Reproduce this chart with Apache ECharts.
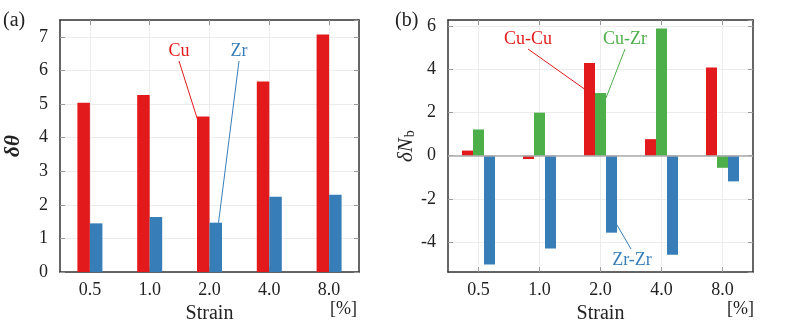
<!DOCTYPE html>
<html>
<head>
<meta charset="utf-8">
<script src="https://cdn.jsdelivr.net/npm/echarts@6/dist/echarts.min.js"></script>
<style>
  html, body { margin: 0; padding: 0; background: #fff; }
  #main { width: 789px; height: 329px; }
</style>
</head>
<body>
<div id="main"></div>
<script>
// strain categories
var strains = ['0.5', '1.0', '2.0', '4.0', '8.0'];
// panel (a): delta theta
var cuTheta = [5.04, 5.27, 4.63, 5.67, 7.07];
var zrTheta = [1.45, 1.64, 1.47, 2.24, 2.30];
// panel (b): delta N_b
var cuCu = [0.24, -0.15, 4.30, 0.77, 4.09];
var cuZr = [1.22, 2.00, 2.91, 5.90, -0.56];
var zrZr = [-5.05, -4.30, -3.57, -4.60, -1.19];

var RED = '#e31a1c', BLUE = '#377eb8', GREEN = '#4daf4a';
var FONT = 'Liberation Serif';

var chart = echarts.init(document.getElementById('main'));

function xAx(grid, bottom) {
	return {
		type: 'category',
		gridIndex: grid,
		position: bottom ? 'bottom' : 'top',
		data: strains,
		boundaryGap: true,
		axisLine: { onZero: false, lineStyle: { color: '#333', width: 1.5 } },
		axisTick: { show: true, inside: true, alignWithLabel: true, length: 5, lineStyle: { color: '#999' } },
		axisLabel: { show: bottom, margin: 9, fontFamily: FONT, fontSize: 18, color: '#222' },
		splitLine: { show: bottom, interval: 0, alignWithLabel: true, lineStyle: { color: '#ececec' } },
		name: bottom ? 'Strain' : '',
		nameLocation: 'middle',
		nameGap: 31,
		nameTextStyle: { fontFamily: FONT, fontSize: 20, color: '#222' }
	};
}

function yAx(grid, left, opts) {
	var a = {
		type: 'value',
		gridIndex: grid,
		position: left ? 'left' : 'right',
		axisLine: { show: true, onZero: false, lineStyle: { color: '#333', width: 1.5 } },
		axisTick: { show: true, inside: true, length: 5, lineStyle: { color: '#999' } },
		axisLabel: { show: left, margin: 12, fontFamily: FONT, fontSize: 18, color: '#222', showMaxLabel: false, showMinLabel: true },
		splitLine: { show: left, lineStyle: { color: '#ececec' } }
	};
	for (var k in opts) a[k] = opts[k];
	return a;
}

var nameA = {
	name: 'δθ', nameLocation: 'middle', nameRotate: 90, nameGap: 36,
	nameTextStyle: { fontFamily: FONT, fontSize: 21, fontStyle: 'italic', fontWeight: 'bold', color: '#222' }
};
var nameB = {
	name: '{i|δN}{s|b}', nameLocation: 'middle', nameRotate: 90, nameGap: 27,
	nameTextStyle: {
		rich: {
			i: { fontFamily: FONT, fontSize: 21, fontStyle: 'italic', color: '#222' },
			s: { fontFamily: FONT, fontSize: 14, color: '#222', verticalAlign: 'bottom', padding: [8, 0, 0, 1] }
		}
	}
};

var yA = yAx(0, true, { min: 0, max: 7.5, interval: 1 });
for (var k in nameA) yA[k] = nameA[k];
var yB = yAx(1, true, { min: -5.4, max: 6.3, splitNumber: 5 });
yB.axisLabel.showMinLabel = false;
for (var k2 in nameB) yB[k2] = nameB[k2];

var option = {
	animation: false,
	grid: [
		{ left: 60, right: 430, top: 20, bottom: 51 },
		{ left: 448, right: 36, top: 20, bottom: 51 }
	],
	xAxis: [xAx(0, true), xAx(0, false), xAx(1, true), xAx(1, false)],
	yAxis: [
		yA,
		yAx(0, false, { min: 0, max: 7.5, interval: 1 }),
		yB,
		yAx(1, false, { min: -5.4, max: 6.3, splitNumber: 5 })
	],
	series: [
		{ type: 'bar', xAxisIndex: 0, yAxisIndex: 0, data: cuTheta, barWidth: 12.5, barGap: '0%', itemStyle: { color: RED } },
		{ type: 'bar', xAxisIndex: 0, yAxisIndex: 0, data: zrTheta, barWidth: 12.5, barGap: '0%', itemStyle: { color: BLUE } },
		{ type: 'bar', xAxisIndex: 2, yAxisIndex: 2, data: cuCu, barWidth: 11, barGap: '0%', itemStyle: { color: RED },
			markLine: { silent: true, symbol: 'none', label: { show: false }, lineStyle: { color: '#aaa', width: 1.5, type: 'solid' }, data: [{ yAxis: 0 }] } },
		{ type: 'bar', xAxisIndex: 2, yAxisIndex: 2, data: cuZr, barWidth: 11, barGap: '0%', itemStyle: { color: GREEN } },
		{ type: 'bar', xAxisIndex: 2, yAxisIndex: 2, data: zrZr, barWidth: 11, barGap: '0%', itemStyle: { color: BLUE } }
	]
};
chart.setOption(option);

// annotation labels and leader lines
function px(grid, cat, val) {
	return chart.convertToPixel({ xAxisIndex: grid * 2, yAxisIndex: grid * 2 }, [cat, val]);
}
function txt(x, y, s, c) {
	return { type: 'text', x: x, y: y, style: { text: s, fill: c, font: '18px "' + FONT + '"', align: 'center', verticalAlign: 'middle' } };
}
function seg(x1, y1, x2, y2, c) {
	return { type: 'line', shape: { x1: x1, y1: y1, x2: x2, y2: y2 }, style: { stroke: c, lineWidth: 1 } };
}

var pCu = px(0, '2.0', cuTheta[2]);
var pZr = px(0, '2.0', zrTheta[2]);
var pCC = px(1, '2.0', cuCu[2]);
var pCZ = px(1, '2.0', cuZr[2]);
var pZZ = px(1, '2.0', zrZr[2]);

chart.setOption({
	graphic: [
		{ type: 'text', x: 3, y: 11, style: { text: '(a)', fill: '#222', font: '20px "' + FONT + '"' } },
		{ type: 'text', x: 395, y: 11, style: { text: '(b)', fill: '#222', font: '20px "' + FONT + '"' } },
		{ type: 'text', x: 330, y: 300, style: { text: '[%]', fill: '#222', font: '18px "' + FONT + '"' } },
		{ type: 'text', x: 727, y: 300, style: { text: '[%]', fill: '#222', font: '18px "' + FONT + '"' } },
		txt(179, 51, 'Cu', RED),
		seg(179, 61, pCu[0] - 12, pCu[1] + 3, RED),
		txt(239, 51, 'Zr', BLUE),
		seg(239, 61, pZr[0] + 9, pZr[1], BLUE),
		txt(528, 39, 'Cu-Cu', RED),
		seg(528, 49, pCC[0] - 14.5, pCC[1] + 27, RED),
		txt(625, 39, 'Cu-Zr', GREEN),
		seg(625, 49, pCZ[0] + 5.5, pCZ[1] + 5, GREEN),
		txt(632, 260, 'Zr-Zr', BLUE),
		seg(631, 249, pZZ[0] + 14.5, pZZ[1] - 11, BLUE)
	]
});

window.onresize = chart.resize;
</script>
</body>
</html>
